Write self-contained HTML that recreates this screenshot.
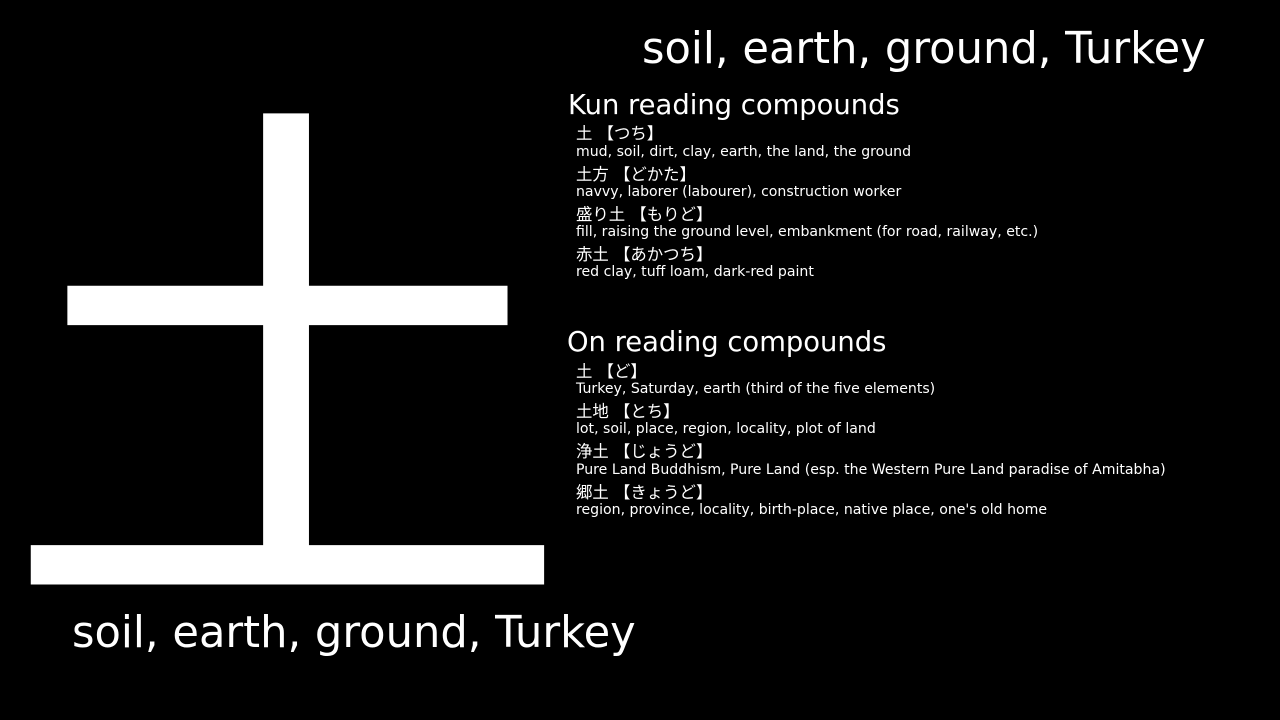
<!DOCTYPE html>
<html><head><meta charset="utf-8"><style>
html,body{margin:0;width:1280px;height:720px;overflow:hidden}
body{background:#000;position:relative;font-family:"DejaVu Sans","Liberation Sans","Noto Sans CJK JP",sans-serif;color:#fff}
div{position:absolute;white-space:nowrap}
.big{font-family:"Noto Sans CJK JP",sans-serif;font-size:560px;line-height:1;left:1px;top:61px;transform:scale(1.022,0.965);transform-origin:0 0}
.t{font-size:43.2px;line-height:1}
.h{font-size:27.4px;line-height:1}
.k{font-size:16.4px;line-height:1;font-family:"DejaVu Sans","Noto Sans CJK JP",sans-serif}
.m{font-size:14.1px;line-height:1}
</style></head><body>
<div class="big">土</div>
<div class="t" style="left:642px;top:28px">soil, earth, ground, Turkey</div>
<div class="t" style="left:72px;top:612px">soil, earth, ground, Turkey</div>
<div class="h" style="left:568px;top:92px">Kun reading compounds</div>
<div class="k" style="left:576px;top:126px">土 【つち】</div>
<div class="m" style="left:576px;top:145px">mud, soil, dirt, clay, earth, the land, the ground</div>
<div class="k" style="left:576px;top:167px">土方 【どかた】</div>
<div class="m" style="left:576px;top:185px">navvy, laborer (labourer), construction worker</div>
<div class="k" style="left:576px;top:207px">盛り土 【もりど】</div>
<div class="m" style="left:576px;top:225px">fill, raising the ground level, embankment (for road, railway, etc.)</div>
<div class="k" style="left:576px;top:247px">赤土 【あかつち】</div>
<div class="m" style="left:576px;top:265px">red clay, tuff loam, dark-red paint</div>
<div class="h" style="left:567px;top:329px">On reading compounds</div>
<div class="k" style="left:576px;top:364px">土 【ど】</div>
<div class="m" style="left:576px;top:382px">Turkey, Saturday, earth (third of the five elements)</div>
<div class="k" style="left:576px;top:404px">土地 【とち】</div>
<div class="m" style="left:576px;top:422px">lot, soil, place, region, locality, plot of land</div>
<div class="k" style="left:576px;top:444px">浄土 【じょうど】</div>
<div class="m" style="left:576px;top:463px">Pure Land Buddhism, Pure Land (esp. the Western Pure Land paradise of Amitabha)</div>
<div class="k" style="left:576px;top:485px">郷土 【きょうど】</div>
<div class="m" style="left:576px;top:503px">region, province, locality, birth-place, native place, one's old home</div>
</body></html>
